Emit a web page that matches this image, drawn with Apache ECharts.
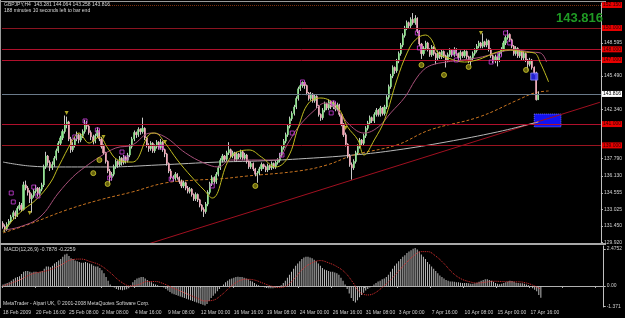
<!DOCTYPE html>
<html><head><meta charset="utf-8">
<script src="https://cdn.jsdelivr.net/npm/echarts@6/dist/echarts.min.js"></script>
<style>html,body{margin:0;padding:0;background:#000;}#c{width:625px;height:318px;}</style>
</head><body><div id="c"></div>
<script>
// ---- data ----
// H4 bars [open, high, low, close], 18 Feb 2009 00:00 ... 20 Apr 2009 12:00
const ohlc = [
[131.7,131.9,131.2,131.4],[131.4,131.6,130.9,131.2],[131.2,131.8,131.0,131.6],[131.6,132.1,131.4,131.9],[131.9,132.5,131.7,132.3],
[132.3,132.9,132.1,132.7],[132.7,132.9,132.1,132.4],[132.4,133.3,132.3,133.1],[133.1,133.7,132.9,133.4],[133.4,133.6,132.8,133.0],
[133.0,135.6,132.9,135.3],[135.3,135.7,134.8,135.0],[135.0,135.2,134.3,134.6],[134.6,134.8,133.6,134.0],[134.0,134.5,132.7,134.3],
[134.3,134.9,134.1,134.7],[134.7,135.3,134.5,135.0],[135.0,135.1,134.2,134.5],[134.5,135.1,134.3,134.9],[134.9,135.5,134.7,135.3],
[135.3,137.2,135.1,137.0],[137.0,138.4,136.8,138.0],[138.0,138.1,137.1,137.4],[137.4,137.6,136.6,136.9],[136.9,137.5,136.7,137.2],
[137.2,138.0,137.0,137.8],[137.8,138.7,137.6,138.5],[138.5,139.4,138.3,139.2],[139.2,139.9,139.0,139.7],[139.7,140.5,139.5,140.3],
[140.3,141.8,140.1,140.9],[140.9,141.7,140.6,141.2],[141.2,141.3,139.4,139.6],[139.6,139.8,138.3,138.6],[138.6,139.3,138.4,139.0],
[139.0,139.8,138.8,139.6],[139.6,140.3,139.4,140.0],[140.0,140.1,139.2,139.5],[139.5,140.1,139.3,139.9],[139.9,140.5,139.7,140.3],
[140.3,141.4,140.1,141.0],[141.0,141.3,140.5,140.8],[140.8,140.9,140.0,140.2],[140.2,140.4,139.5,139.8],[139.8,140.0,139.1,139.4],
[139.4,140.1,139.2,139.9],[139.9,140.7,139.7,140.4],[140.4,140.5,139.4,139.6],[139.6,139.8,138.7,138.9],[138.9,139.1,138.1,138.3],
[138.3,138.4,137.3,137.5],[137.5,137.6,136.4,136.6],[136.6,136.8,135.4,136.0],[136.0,136.5,135.7,136.3],[136.3,137.2,136.1,137.0],
[137.0,137.7,136.8,137.5],[137.5,137.6,136.9,137.2],[137.2,138.0,137.0,137.8],[137.8,137.9,137.1,137.4],[137.4,138.1,137.2,137.9],
[137.9,138.0,137.3,137.6],[137.6,138.3,137.4,138.1],[138.1,139.1,137.9,138.9],[138.9,139.8,138.7,139.6],[139.6,140.4,139.4,140.2],
[140.2,140.3,139.7,140.0],[140.0,140.7,139.8,140.5],[140.5,140.6,140.0,140.3],[140.3,141.6,140.1,140.6],[140.6,140.7,139.5,139.7],
[139.7,139.8,138.8,139.0],[139.0,139.2,138.4,138.7],[138.7,139.4,138.5,139.2],[139.2,139.3,138.3,138.5],[138.5,139.1,138.3,138.9],
[138.9,139.5,138.7,139.3],[139.3,139.4,138.6,138.8],[138.8,139.6,138.6,139.3],[139.3,139.4,138.4,138.6],[138.6,138.7,137.9,138.2],
[138.2,138.3,137.1,137.3],[137.3,137.4,136.4,136.6],[136.6,136.8,135.8,136.0],[136.0,136.2,135.6,135.9],[135.9,136.5,135.7,136.3],
[136.3,136.4,135.8,136.0],[136.0,136.1,135.4,135.6],[135.6,135.8,135.0,135.2],[135.2,135.7,135.0,135.5],[135.5,135.6,134.8,135.0],
[135.0,135.2,134.5,134.7],[134.7,135.1,134.5,134.9],[134.9,135.0,134.2,134.4],[134.4,134.5,133.8,134.0],[134.0,134.6,133.8,134.4],
[134.4,134.5,133.7,133.9],[133.9,134.0,133.2,133.4],[133.4,133.5,132.8,133.0],[133.0,133.2,132.3,132.8],[132.8,133.7,132.6,133.5],
[133.5,134.8,133.3,134.6],[134.6,135.6,134.4,135.4],[135.4,136.2,135.2,136.0],[136.0,136.1,135.4,135.6],[135.6,136.5,135.4,136.3],
[136.3,137.1,136.1,136.9],[136.9,137.8,136.7,137.6],[137.6,138.2,137.4,138.0],[138.0,138.1,137.5,137.7],[137.7,138.5,137.5,138.3],
[138.3,139.3,138.1,138.6],[138.6,138.7,137.8,138.0],[138.0,138.5,137.8,138.3],[138.3,138.4,137.5,137.7],[137.7,138.4,137.5,138.2],
[138.2,138.3,137.7,137.9],[137.9,138.6,137.7,138.4],[138.4,138.5,137.6,137.8],[137.8,138.3,137.6,138.1],[138.1,138.2,137.3,137.5],
[137.5,137.6,136.8,137.0],[137.0,137.5,136.8,137.3],[137.3,137.4,136.6,136.8],[136.8,136.9,136.1,136.3],[136.3,136.6,135.5,136.4],
[136.4,137.0,136.2,136.8],[136.8,137.4,136.6,137.2],[137.2,137.3,136.8,137.0],[137.0,137.1,136.5,136.7],[136.7,137.3,136.5,137.1],
[137.1,137.2,136.7,136.9],[136.9,137.5,136.7,137.3],[137.3,137.4,136.8,137.0],[137.0,137.6,136.8,137.4],[137.4,137.8,137.2,137.6],
[137.6,138.3,137.4,138.1],[138.1,139.0,137.9,138.8],[138.8,139.6,138.6,139.4],[139.4,140.2,139.2,140.0],[140.0,141.0,139.8,140.8],
[140.8,141.7,140.6,141.5],[141.5,142.2,141.3,142.0],[142.0,142.8,141.8,142.6],[142.6,143.6,142.4,143.4],[143.4,144.5,143.2,144.3],
[144.3,144.8,144.1,144.6],[144.6,145.0,144.4,144.9],[144.9,145.0,144.3,144.6],[144.6,144.7,143.7,143.9],[143.9,144.0,143.2,143.4],
[143.4,144.0,143.2,143.8],[143.8,143.9,143.0,143.2],[143.2,143.8,143.0,143.6],[143.6,143.7,142.5,142.7],[142.7,142.8,141.7,141.9],
[141.9,142.0,141.3,141.6],[141.6,142.5,141.4,142.3],[142.3,143.1,142.1,142.9],[142.9,143.0,142.3,142.5],[142.5,143.3,142.3,143.1],
[143.1,143.2,142.4,142.6],[142.6,143.2,142.4,143.0],[143.0,143.1,142.2,142.4],[142.4,143.0,142.2,142.8],[142.8,142.9,141.7,141.9],
[141.9,142.0,140.8,141.0],[141.0,141.1,139.8,140.0],[140.0,140.2,138.9,139.1],[139.1,139.2,137.8,138.0],[138.0,138.2,137.0,137.2],
[137.2,137.4,135.8,136.9],[136.9,137.7,136.7,137.5],[137.5,138.5,137.3,138.3],[138.3,139.1,138.1,138.9],[138.9,139.7,138.7,139.5],
[139.5,139.6,139.0,139.2],[139.2,140.1,139.0,139.9],[139.9,140.8,139.7,140.6],[140.6,141.3,140.4,141.1],[141.1,141.8,140.9,141.6],
[141.6,141.7,141.1,141.3],[141.3,142.1,141.1,141.9],[141.9,142.5,141.7,142.3],[142.3,142.4,141.7,141.9],[141.9,142.7,141.7,142.5],
[142.5,142.6,141.8,142.0],[142.0,142.8,141.8,142.6],[142.6,143.7,142.4,143.5],[143.5,144.7,143.3,144.5],[144.5,145.7,144.3,145.5],
[145.5,146.5,145.3,146.3],[146.3,146.4,145.7,146.0],[146.0,147.1,145.8,146.9],[146.9,147.8,146.7,147.6],[147.6,148.6,147.4,148.4],
[148.4,149.5,148.2,149.3],[149.3,150.2,149.1,150.0],[150.0,150.7,149.8,150.5],[150.5,150.6,149.9,150.2],[150.2,151.0,150.0,150.8],
[150.8,151.4,150.3,150.5],[150.5,151.2,150.3,150.9],[150.9,151.0,149.5,149.7],[149.7,149.8,148.3,148.5],[148.5,148.6,147.1,147.6],
[147.6,148.3,147.4,148.1],[148.1,148.8,147.9,148.6],[148.6,148.7,147.8,148.0],[148.0,148.1,147.3,147.5],[147.5,148.4,147.3,148.2],
[148.2,148.3,147.4,147.6],[147.6,147.7,146.6,147.2],[147.2,147.9,147.0,147.7],[147.7,147.8,147.1,147.3],[147.3,148.0,147.1,147.8],
[147.8,147.9,147.2,147.4],[147.4,147.5,146.3,147.0],[147.0,147.7,146.8,147.5],[147.5,148.1,147.3,147.9],[147.9,148.0,147.3,147.5],
[147.5,148.2,147.3,148.0],[148.0,148.1,147.4,147.6],[147.6,147.7,147.0,147.2],[147.2,147.9,147.0,147.7],[147.7,147.8,147.2,147.4],
[147.4,148.0,147.2,147.8],[147.8,147.9,147.1,147.3],[147.3,147.4,146.7,146.9],[146.9,147.4,146.5,147.2],[147.2,147.8,147.0,147.6],
[147.6,148.1,147.4,147.9],[147.9,148.5,147.7,148.3],[148.3,148.8,148.1,148.6],[148.6,148.7,148.1,148.3],[148.3,149.5,148.1,148.7],
[148.7,148.8,148.2,148.4],[148.4,149.0,148.2,148.8],[148.8,148.9,147.8,148.0],[148.0,148.1,147.2,147.4],[147.4,147.5,146.7,146.9],
[146.9,147.5,146.7,147.3],[147.3,147.4,146.4,147.0],[147.0,147.8,146.8,147.6],[147.6,148.2,147.4,148.0],[148.0,148.8,147.8,148.6],
[148.6,149.3,148.4,149.1],[149.1,149.8,148.9,149.4],[149.4,149.5,148.7,148.9],[148.9,149.0,148.1,148.3],[148.3,148.4,147.4,147.6],
[147.6,148.3,147.4,148.1],[148.1,148.2,147.2,147.4],[147.4,148.0,147.2,147.8],[147.8,147.9,147.0,147.2],[147.2,147.8,147.0,147.6],
[147.6,147.7,146.8,147.0],[147.0,147.1,146.0,146.6],[146.6,147.2,146.4,147.0],[147.0,147.1,146.1,146.3],[146.3,146.4,145.6,145.8],
[145.8,145.9,143.2,143.28],[143.281,144.064,143.258,143.816]
];
const macdHist = [
0.1,0.15,0.2,0.25, 0.35,0.45,0.55,0.6,0.65, 0.8,0.95,1.0,1.0,0.95, 0.9,0.95,0.95,0.9,0.95, 1.0,1.15,1.3,1.3,1.25,
1.35,1.5,1.6,1.7,1.8, 1.95,2.1,2.15, 2.0,1.85,1.8, 1.7,1.65,1.6,1.55, 1.55,1.6,1.55,1.5,1.45, 1.35,1.3,1.3,1.2,1.05,
0.85,0.6,0.35, 0.1,-0.05,-0.1, -0.2,-0.25,-0.25,-0.28,-0.25,-0.22,-0.15, 0.05,0.25,0.4,0.5,0.55,0.6,0.6,
0.5,0.4,0.3,0.25,0.15, 0.1,0.05,0.0,-0.05,-0.1, -0.2,-0.3,-0.4,-0.5,-0.55, -0.6,-0.65,-0.7,-0.75,-0.8,-0.85,-0.9,
-0.95,-1.0,-1.05,-1.1,-1.15,-1.2,-1.25,-1.3, -1.2,-1.0,-0.8,-0.65,-0.5, -0.35,-0.2,-0.05,0.1, 0.25,0.35,0.45,0.5,0.55,
0.6,0.62,0.6,0.6,0.55,0.5,0.45, 0.35,0.3,0.2,0.1,0.05, 0.0,-0.05,-0.1,-0.12, -0.15,-0.15,-0.15,-0.12,-0.1,-0.05,0.05,0.2,
0.35,0.55,0.75, 0.95,1.15,1.35,1.5,1.65, 1.8,1.9,1.95,1.95,1.9,1.85,1.75, 1.65,1.5,1.35, 1.2,1.1,1.05,1.0,
0.95,0.95,0.9,0.85,0.75, 0.55,0.35, 0.1,-0.2,-0.5,-0.8, -1.0,-1.1,-0.95, -0.75,-0.6,-0.45, -0.3,-0.2,-0.1,0.0,0.1,
0.2,0.3,0.35,0.45,0.5, 0.6,0.75, 0.95,1.15,1.35, 1.5,1.65,1.8,1.95,2.05, 2.2,2.3,2.4, 2.5,2.55,2.45, 2.3,2.1,1.95,1.8,
1.6,1.45, 1.3,1.15,1.0, 0.85,0.7,0.6,0.5, 0.4,0.35,0.3,0.3,0.28,0.25,0.25,0.22,0.2,0.2,0.2,0.18,
0.15,0.15,0.18,0.22,0.28, 0.35,0.4,0.45,0.45,0.4,0.35, 0.28,0.2,0.15,0.12,0.15,0.2, 0.25,0.3,0.35,0.33,0.28,
0.22,0.2,0.18,0.18,0.15,0.1,0.05, -0.05,-0.15,-0.25, -0.35,-0.6,-0.7878
];
const macdSignal = [[0,0.0],[8,0.4],[14,0.8],[22,1.05],[28,1.4],[33,1.75],[38,1.8],[42,1.65],[47,1.4],[52,0.9],[57,0.3],[62,0.0],
[66,0.1],[70,0.3],[74,0.3],[78,0.15],[82,-0.1],[88,-0.45],[94,-0.8],[98,-1.0],[102,-0.95],[106,-0.6],[110,-0.1],[114,0.3],
[118,0.45],[122,0.4],[126,0.2],[130,0.0],[134,-0.1],[138,0.05],[142,0.6],[146,1.2],[150,1.55],[154,1.7],[158,1.55],[162,1.3],
[166,0.9],[170,0.2],[173,-0.4],[177,-0.6],[180,-0.5],[184,-0.1],[188,0.4],[192,1.0],[196,1.6],[200,2.1],[203,2.3],[206,2.3],
[210,2.0],[214,1.5],[218,0.9],[222,0.5],[226,0.3],[230,0.2],[234,0.25],[238,0.32],[242,0.3],[246,0.28],[250,0.28],[254,0.2],
[258,0.0],[261,-0.2259]];
const maYellow = [[0,130.9],[8,132.67],[16,133.89],[23,135.48],[27,136.98],[34,139.5],[37,140.16],[42,139.22],[47,139.79],[51,138.76],
[56,137.63],[63,137.44],[71,139.97],[74,140.16],[79,139.22],[85,137.63],[92,136.04],[98,134.82],[102,134.07],[111,137.91],[120,138.57],
[126,137.91],[133,136.98],[139,137.91],[144,140.73],[149,142.97],[155,143.44],[163,142.6],[168,140.73],[173,139.51],[176,138.1],
[181,139.51],[186,141.38],[192,145.13],[197,147.66],[201,148.88],[206,149.34],[209,148.88],[212,147.66],[217,147.19],[225,146.81],
[231,147.0],[235,147.28],[241,147.75],[247,147.94],[254,147.75],[259,147.66],[262,146.72],[266,144.94]];
const maMauve = [[0,131.07],[8,131.36],[18,132.29],[27,134.54],[34,136.04],[40,136.98],[47,137.91],[55,138.76],[63,139.04],[72,140.16],
[79,139.79],[89,138.29],[98,137.35],[105,136.98],[111,137.63],[121,137.63],[133,137.63],[139,139.22],[144,140.73],[152,142.32],
[157,142.97],[163,142.32],[169,140.91],[176,140.16],[183,140.73],[189,142.04],[196,143.54],[201,145.13],[205,146.07],[209,146.53],
[216,146.81],[231,147.19],[250,147.94],[257,147.75],[262,147.66],[265,146.81]];
const maOrange = [[0,130.8],[13,131.64],[31,132.95],[47,133.89],[63,134.64],[79,135.48],[95,135.76],[105,135.85],[119,136.13],
[144,136.6],[158,137.17],[171,138.1],[192,139.04],[208,140.44],[232,141.66],[251,143.26],[259,143.91],[266,144.1]];
const maGrey = [[0,137.44],[13,137.07],[27,136.98],[51,136.98],[76,137.17],[105,137.44],[124,137.54],[144,137.73],[171,138.1],
[192,138.57],[216,139.32],[241,140.26],[259,141.1],[261,141.2]];
const trendLine = [[60,129.12],[291,143.04]];
const levelValues = [152.15,150.0,148.0,147.0,141.0,139.0];
const levelLabels = ['152.150','150.000','148.000','147.000','141.000','139.000'];
const lastPrice = 143.816;
const zoneBox = [[259,141.94],[272,140.73]];
const lastMarker = [[259,145.45]];
const sqMarks = [[4,134.54],[5,133.7],[15,135.1],[17,134.26],[35,139.79],[40,141.29],[46,140.44],[52,135.95],[58,138.38],[60,137.82],
[77,138.85],[82,135.85],[102,135.2],[136,138.1],[141,140.16],[146,144.94],[160,142.04],[161,142.97],[202,149.53],[203,148.13],
[220,147.66],[221,147.0],[238,146.81],[242,147.47],[245,149.53],[247,148.6]];
const circleMarks = [[51,135.39],[123,135.2],[204,146.53],[215,145.6],[227,146.35],[255,146.07],[44,136.4],[47,137.63]];
const triMarks = [[13,132.67],[31,142.04],[49,139.79],[79,139.32],[167,140.63],[233,149.53]];
const priceTicks = [148.595,145.490,142.340,137.790,136.130,134.555,133.025,131.450,129.920];
const macdTicks = [2.4752,0,-1.371];
const macdTickLabels = ['2.4752','0.00','-1.371'];
const timeLabels = ['18 Feb 2009','20 Feb 16:00','25 Feb 08:00','2 Mar 08:00','4 Mar 16:00','9 Mar 08:00','12 Mar 00:00',
'16 Mar 16:00','19 Mar 08:00','24 Mar 00:00','26 Mar 16:00','31 Mar 08:00','3 Apr 00:00','7 Apr 16:00','10 Apr 08:00',
'15 Apr 00:00','17 Apr 16:00'];
const SLOTS = 292, LABEL_EVERY = 16;

// ---- build ----
const cats = Array.from({length: SLOTS}, (_, i) => i);
const wickData = ohlc.map(r => [r[0], r[3], r[2], r[1]]);
const bodyData = ohlc.map(r => [r[0], r[3], Math.min(r[0], r[3]), Math.max(r[0], r[3])]);
const F = 'Liberation Sans, Arial, sans-serif';
const levelColors = ['#7a3010','#8a1420','#b0102c','#b0102c','#b0102c','#9a1420'];
const levelTypes = ['dotted','solid','solid','solid','solid','solid'];

const chart = echarts.init(document.getElementById('c'), null, {renderer: 'canvas'});
const lbl = (bg, fg) => ({show: true, position: 'end', distance: 1, backgroundColor: bg, color: fg,
  fontSize: 5, fontFamily: F, padding: [1, 1, 0, 1]});
chart.setOption({
  animation: false,
  backgroundColor: '#000',
  grid: [
    {left: 2, right: 20, top: 3, height: 240},
    {left: 2, right: 20, top: 246, height: 61}
  ],
  xAxis: [
    {type: 'category', data: cats, gridIndex: 0, axisLine: {show: false}, axisTick: {show: false},
     axisLabel: {show: false}, splitLine: {show: false}},
    {type: 'category', data: cats, gridIndex: 1,
     axisLine: {show: true, lineStyle: {color: '#b0b0b0'}},
     axisTick: {show: true, interval: (i) => i % LABEL_EVERY === 0, length: 2, lineStyle: {color: '#b0b0b0'}},
     axisLabel: {show: true, interval: (i) => i % LABEL_EVERY === 0 && i / LABEL_EVERY < timeLabels.length,
       formatter: (v, i) => timeLabels[Math.round(Number(v) / LABEL_EVERY)] || '',
       align: 'left', color: '#d0d0d0', fontSize: 5, fontFamily: F, margin: 3},
     splitLine: {show: false}}
  ],
  yAxis: [
    {type: 'value', gridIndex: 0, position: 'right', min: 129.857, max: 152.34, scale: true,
     axisLine: {show: true, lineStyle: {color: '#c0c0c0'}},
     axisTick: {show: true, length: 2, customValues: priceTicks, lineStyle: {color: '#c0c0c0'}},
     axisLabel: {show: true, customValues: priceTicks, formatter: (v) => v.toFixed(3), color: '#d0d0d0',
       fontSize: 5, fontFamily: F, margin: 3},
     splitLine: {show: false}},
    {type: 'value', gridIndex: 1, position: 'right', min: -1.405, max: 2.676,
     axisLine: {show: true, lineStyle: {color: '#c0c0c0'}},
     axisTick: {show: true, length: 2, customValues: macdTicks, lineStyle: {color: '#c0c0c0'}},
     axisLabel: {show: true, customValues: macdTicks,
       formatter: (v) => macdTickLabels[macdTicks.indexOf(v)] !== undefined ? macdTickLabels[macdTicks.indexOf(v)] : '',
       color: '#d0d0d0', fontSize: 5, fontFamily: F, margin: 3},
     splitLine: {show: false}}
  ],
  series: [
    {type: 'line', name: 'trend', data: trendLine, xAxisIndex: 0, yAxisIndex: 0, showSymbol: false,
     lineStyle: {color: '#a01020', width: 1}, z: 1, silent: true,
     markLine: {symbol: 'none', silent: true, animation: false,
       data: levelValues.map((v, k) => ({yAxis: v, lineStyle: {color: levelColors[k], width: 1, type: levelTypes[k]},
         label: Object.assign(lbl('#e80000', '#300000'), {formatter: levelLabels[k]})}))
         .concat([{yAxis: lastPrice, lineStyle: {color: '#6a7a8a', width: 1, type: 'solid'},
           label: Object.assign(lbl('#ffffff', '#000000'), {formatter: lastPrice.toFixed(3)})}])},
     markArea: {silent: true, itemStyle: {color: '#1212f0', borderColor: '#7070ff', borderWidth: 1, borderType: 'dotted'},
       data: [[{xAxis: zoneBox[0][0], yAxis: zoneBox[0][1]}, {xAxis: zoneBox[1][0], yAxis: zoneBox[1][1]}]]}},
    {type: 'line', name: 'grey', data: maGrey, showSymbol: false, smooth: 0.4, lineStyle: {color: '#b8b8b8', width: 1}, z: 2},
    {type: 'line', name: 'orange', data: maOrange, showSymbol: false, smooth: 0.4,
     lineStyle: {color: '#c87420', width: 1, type: [3, 2]}, z: 2},
    {type: 'candlestick', name: 'wick', data: wickData, barWidth: 1, z: 3,
     itemStyle: {color: '#c8c8c8', color0: '#c8c8c8', borderColor: '#c8c8c8', borderColor0: '#c8c8c8', borderWidth: 1}},
    {type: 'candlestick', name: 'body', data: bodyData, barWidth: 1.6, z: 4,
     itemStyle: {color: '#8fe68f', color0: '#f4a8b8', borderColor: '#8fe68f', borderColor0: '#f4a8b8', borderWidth: 0.6}},
    {type: 'line', name: 'mauve', data: maMauve, showSymbol: false, smooth: 0.4, lineStyle: {color: '#a8507a', width: 1}, z: 5},
    {type: 'line', name: 'yellow', data: maYellow, showSymbol: false, smooth: 0.4, lineStyle: {color: '#c0bc20', width: 1}, z: 5},
    {type: 'scatter', name: 'sq', data: sqMarks, symbol: 'rect', symbolSize: 4, z: 6,
     itemStyle: {color: 'rgba(0,0,0,0)', borderColor: '#d040e0', borderWidth: 1}},
    {type: 'scatter', name: 'circ', data: circleMarks, symbol: 'circle', symbolSize: 5, z: 6,
     itemStyle: {color: '#807a10', borderColor: '#d0cc30', borderWidth: 1}},
    {type: 'scatter', name: 'tri', data: triMarks, symbol: 'triangle', symbolRotate: 180, symbolSize: 4, z: 6,
     itemStyle: {color: '#d8d030'}},
    {type: 'scatter', name: 'last', data: lastMarker, symbol: 'rect', symbolSize: 7, z: 7,
     itemStyle: {color: '#2a2aff', borderColor: '#9090ff', borderWidth: 1}},
    {type: 'bar', name: 'macd', data: macdHist, xAxisIndex: 1, yAxisIndex: 1, barWidth: 1,
     itemStyle: {color: '#bcbcbc'}, z: 2},
    {type: 'line', name: 'signal', data: macdSignal, xAxisIndex: 1, yAxisIndex: 1, showSymbol: false, smooth: 0.4,
     lineStyle: {color: '#e03030', width: 1, type: 'dotted'}, z: 3}
  ],
  graphic: [
    {type: 'rect', shape: {x: 0, y: 1, width: 606, height: 1}, style: {fill: '#9a9a9a'}, z: 100, silent: true},
    {type: 'rect', shape: {x: 0, y: 0, width: 1, height: 308}, style: {fill: '#9a9a9a'}, z: 100, silent: true},
    {type: 'rect', shape: {x: 0, y: 243, width: 606, height: 2}, style: {fill: '#a8a8a8'}, z: 100, silent: true},
    {type: 'rect', shape: {x: 2, y: 2, width: 105, height: 11}, style: {fill: '#000'}, z: 100, silent: true},
    {type: 'text', x: 4, y: 2, style: {text: 'GBPJPY,H4  143.281 144.064 143.258 143.816', fill: '#d8d8d8', font: '5px ' + F}, z: 101},
    {type: 'text', x: 4, y: 8, style: {text: '188 minutes 10 seconds left to bar end', fill: '#d8d8d8', font: '5px ' + F}, z: 101},
    {type: 'text', x: 603, y: 12, style: {text: '143.816', fill: '#1f9a24', font: 'bold 13px ' + F, align: 'right'}, z: 101},
    {type: 'text', x: 4, y: 247, style: {text: 'MACD(12,26,9) -0.7878 -0.2259', fill: '#d8d8d8', font: '5px ' + F}, z: 101},
    {type: 'text', x: 3, y: 301, style: {text: 'MetaTrader - Alpari UK, \u00a9 2001-2008 MetaQuotes Software Corp.', fill: '#d8d8d8', font: '5px ' + F}, z: 101}
  ]
});
</script></body></html>
